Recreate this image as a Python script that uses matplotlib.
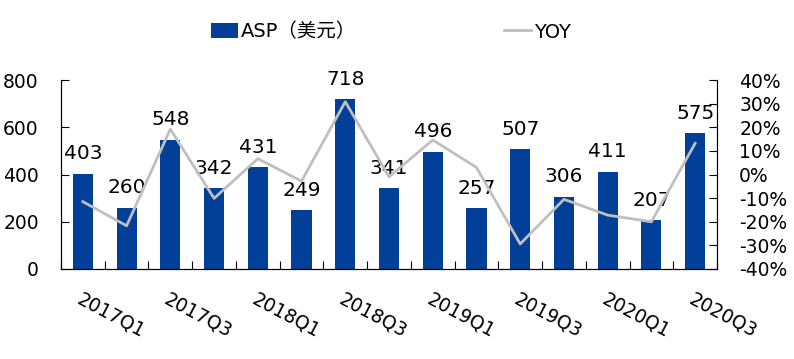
import numpy as np
import matplotlib
matplotlib.use('Agg')
from matplotlib import pyplot as plt
from matplotlib.ticker import FuncFormatter, MultipleLocator

plt.rcParams['font.family'] = ['DejaVu Sans', 'Noto Sans CJK SC']

quarters = ['2017Q1', '2017Q2', '2017Q3', '2017Q4',
            '2018Q1', '2018Q2', '2018Q3', '2018Q4',
            '2019Q1', '2019Q2', '2019Q3', '2019Q4',
            '2020Q1', '2020Q2', '2020Q3']
asp = [403, 260, 548, 342, 431, 249, 718, 341, 496, 257, 507, 306, 411, 207, 575]
yoy = [-11.5, -21.7, 19.2, -10.1, 6.7, -2.8, 30.8, -1.0, 14.6, 3.0, -29.4, -10.5, -17.2, -20.0, 13.2]

bar_color = '#023F98'
line_color = '#BFBFBF'

fig = plt.figure(figsize=(7.94, 3.59), dpi=100)
ax = fig.add_axes([61 / 794, 1 - 269 / 359, (717 - 61) / 794, (269 - 80) / 359])
x = np.arange(len(quarters))

bars = ax.bar(x, asp, width=0.46, color=bar_color, label='ASP（美元）', zorder=2)
for i, v in enumerate(asp):
    ax.annotate(str(v), (i, v), xytext=(0, 7.5), textcoords='offset points',
                ha='center', va='bottom', fontsize=14.5)

ax.set_xlim(-0.5, len(quarters) - 0.5)
ax.set_ylim(0, 800)
ax.yaxis.set_major_locator(MultipleLocator(200))
ax.set_xticks(x[::2])
ax.set_xticklabels(quarters[::2], rotation=-28, ha='left', va='top', rotation_mode='anchor')
ax.set_xticks(np.arange(-0.5, len(quarters), 1), minor=True)
ax.tick_params(axis='x', which='major', length=0, pad=15, labelsize=13.5)
ax.tick_params(axis='x', which='minor', direction='in', length=5.5, width=0.8)
ax.tick_params(axis='y', direction='in', length=5.5, width=0.8, pad=16, labelsize=13.5)
ax.spines['top'].set_visible(False)

ax2 = ax.twinx()
line, = ax2.plot(x, yoy, color=line_color, lw=2, label='YOY', zorder=3)
ax2.set_ylim(-40, 40)
ax2.yaxis.set_major_locator(MultipleLocator(10))
ax2.yaxis.set_major_formatter(FuncFormatter(lambda v, p: '%d%%' % round(v)))
ax2.tick_params(axis='y', direction='in', length=5.5, width=0.8, pad=16, labelsize=13.5)
ax2.spines['top'].set_visible(False)

fig.legend(handles=[bars, line], ncol=2, loc='center', bbox_to_anchor=(391 / 794, 1 - 32 / 359),
           frameon=False, fontsize=14, columnspacing=7.6, handlelength=1.4, handleheight=0.8,
           handletextpad=0.15)

fig.savefig('out.png', dpi=100)
